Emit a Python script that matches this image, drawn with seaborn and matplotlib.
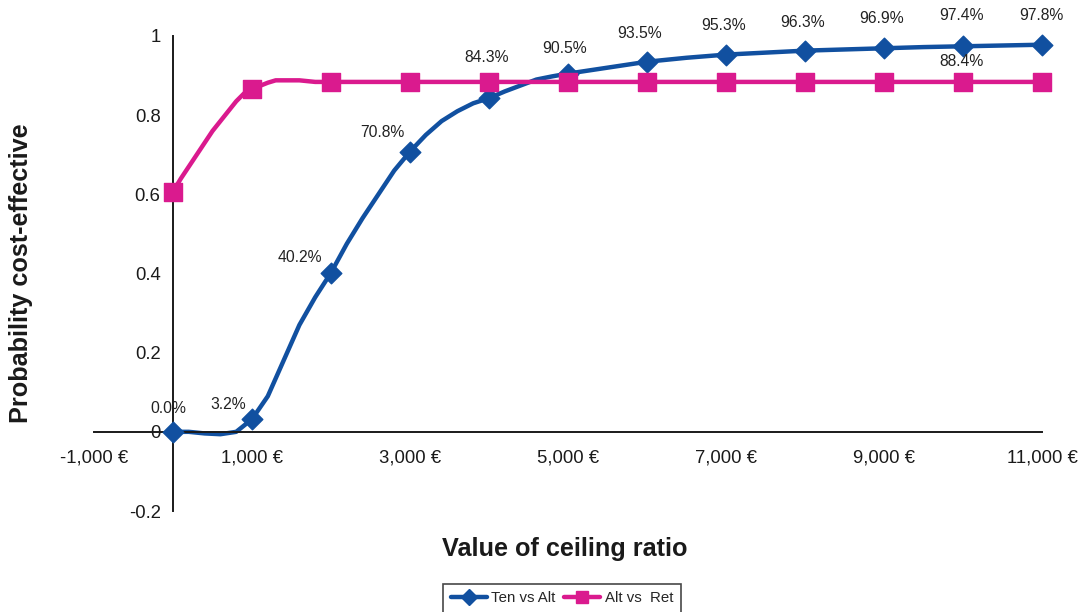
import numpy as np
import pandas as pd
import seaborn as sns
import matplotlib.pyplot as plt
from matplotlib.lines import Line2D

# ceiling ratio values and probabilities
ten_x = [0, 200, 400, 600, 800, 1000, 1200, 1400, 1600, 1800, 2000, 2200, 2400, 2600,
         2800, 3000, 3200, 3400, 3600, 3800, 4000, 4200, 4400, 4600, 4800, 5000, 5500,
         6000, 6500, 7000, 7500, 8000, 8500, 9000, 9500, 10000, 10500, 11000]
ten_y = [0.0, 0.0, -0.004, -0.006, 0.0, 0.032, 0.09, 0.18, 0.27, 0.34, 0.402, 0.475,
         0.54, 0.60, 0.66, 0.708, 0.75, 0.785, 0.81, 0.83, 0.843, 0.86, 0.875, 0.89,
         0.898, 0.905, 0.92, 0.935, 0.945, 0.953, 0.958, 0.963, 0.966, 0.969, 0.972,
         0.974, 0.976, 0.978]

alt_x = [0, 100, 200, 300, 400, 500, 600, 700, 800, 900, 1000, 1200, 1300, 1600, 1800,
         2000, 3000, 4000, 5000, 6000, 7000, 8000, 9000, 10000, 11000]
alt_y = [0.607, 0.64, 0.67, 0.70, 0.73, 0.76, 0.785, 0.81, 0.835, 0.855, 0.866, 0.882,
         0.888, 0.888, 0.884, 0.884, 0.884, 0.884, 0.884, 0.884, 0.884, 0.884, 0.884,
         0.884, 0.884]

series_names = ['Ten vs Alt', 'Alt vs  Ret']
palette = {'Ten vs Alt': '#1150A0', 'Alt vs  Ret': '#DA1A8E'}
markers = {'Ten vs Alt': 'D', 'Alt vs  Ret': 's'}

x_ticks = [-1000, 1000, 3000, 5000, 7000, 9000, 11000]
y_ticks = [-0.2, 0, 0.2, 0.4, 0.6, 0.8, 1]

# label offsets in pixels (dx, dy) for the percentage annotations
ten_label_offsets = {0: (-5, 23), 1000: (-24, 15), 2000: (-31, 15), 3000: (-28, 19),
                     4000: (-2, 41), 5000: (-3, 25), 6000: (-7, 28), 7000: (-2, 29),
                     8000: (-2, 28), 9000: (-2, 30), 10000: (-2, 31), 11000: (-1, 29)}

df = pd.concat([
    pd.DataFrame({'x': ten_x, 'y': ten_y, 'series': series_names[0]}),
    pd.DataFrame({'x': alt_x, 'y': alt_y, 'series': series_names[1]}),
])
pts = df[df['x'] % 1000 == 0]

sns.set_theme(style="white")
plt.rcParams['font.family'] = ['Liberation Sans', 'DejaVu Sans']

fig = plt.figure(figsize=(10.82, 6.12), dpi=100)
ax = fig.add_axes([94 / 1082, 1 - 511 / 612, (1042 - 94) / 1082, (511 - 36) / 612])

sns.lineplot(data=df, x='x', y='y', hue='series', palette=palette, linewidth=3.2,
             estimator=None, sort=False, legend=False, ax=ax)
for name in series_names:
    sub = pts[pts['series'] == name]
    ax.scatter(sub['x'], sub['y'], marker=markers[name], s=150 if name == series_names[1] else 110,
               color=palette[name], edgecolor=palette[name], zorder=3, clip_on=False)
for line in ax.lines:
    line.set_clip_on(False)
    line.set_solid_capstyle('butt')

# percentage labels
for x, y in zip(ten_x, ten_y):
    if x % 1000 == 0:
        dx, dy = ten_label_offsets[x]
        ax.annotate(f"{y * 100:.1f}%", (x, y), xytext=(dx, dy), textcoords='offset pixels',
                    ha='center', va='center', fontsize=11.3, color='#222222')
ax.annotate("88.4%", (10000, 0.884), xytext=(-1, 20), textcoords='offset pixels',
            ha='center', va='center', fontsize=11.3, color='#222222')

ax.set_xlim(-1000, 11000)
ax.set_ylim(-0.2, 1)
ax.spines['left'].set_position(('data', 0))
ax.spines['bottom'].set_position(('data', 0))
ax.spines['top'].set_visible(False)
ax.spines['right'].set_visible(False)
for s in ['left', 'bottom']:
    ax.spines[s].set_color('#1a1a1a')
    ax.spines[s].set_linewidth(1.4)
ax.set_xticks(x_ticks)
ax.set_xticklabels([f"{v:,} €" for v in x_ticks])
ax.set_yticks(y_ticks)
ax.set_yticklabels([f"{v:g}" for v in y_ticks])
ax.tick_params(axis='both', direction='out', length=6, width=1.4, color='#1a1a1a',
               labelsize=13.3, labelcolor='#1a1a1a')
ax.tick_params(axis='x', pad=7)
ax.tick_params(axis='y', pad=3)
ax.set_xlabel('')
ax.set_ylabel('')

fig.text(21 / 1082, 1 - 273 / 612, 'Probability cost-effective', rotation=90,
         ha='center', va='center', fontsize=18.2, fontweight='bold', color='#1a1a1a')
fig.text(565 / 1082, 1 - 549 / 612, 'Value of ceiling ratio', ha='center', va='center',
         fontsize=18.2, fontweight='bold', color='#1a1a1a')

handles = [Line2D([], [], color=palette[n], marker=markers[n], linewidth=3.2,
                  markersize=9 if n == series_names[1] else 8) for n in series_names]
leg = fig.legend(handles, series_names, loc='upper center', bbox_to_anchor=(562 / 1082, 1 - 576 / 612),
                 ncol=2, frameon=True, fontsize=10.8, handlelength=2.4, columnspacing=0.6,
                 handletextpad=0.3, borderpad=0.5, fancybox=False)
leg.get_frame().set_edgecolor('#1a1a1a')
leg.get_frame().set_linewidth(1.2)

fig.savefig('out.png', dpi=100)
